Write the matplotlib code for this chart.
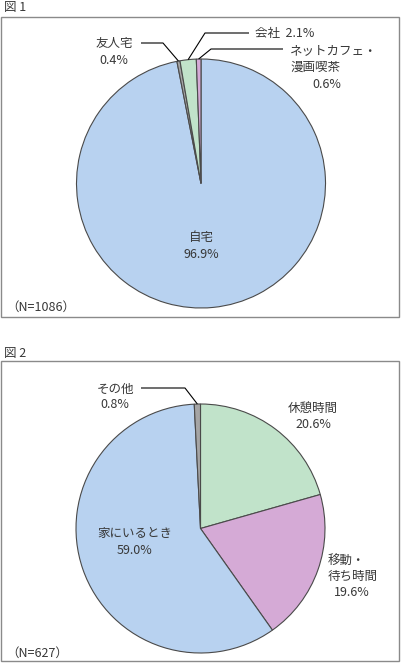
import numpy as np
import matplotlib
matplotlib.use("Agg")
import matplotlib.pyplot as plt
from matplotlib.patches import Rectangle

plt.rcParams['font.family'] = ['Noto Sans CJK JP', 'DejaVu Sans']

# ---- data ----
fig1_labels = ["自宅", "友人宅", "会社", "ネットカフェ・\n漫画喫茶"]
fig1_values = [96.9, 0.4, 2.1, 0.6]
fig1_n = 1086

fig2_labels = ["休憩時間", "移動・\n待ち時間", "家にいるとき", "その他"]
fig2_values = [20.6, 19.6, 59.0, 0.8]
fig2_n = 627

BLUE, GRAY, GREEN, PINK = "#B8D2F0", "#A5A5A5", "#C1E3CA", "#D5AAD6"
fig1_colors = [BLUE, GRAY, GREEN, PINK]
fig2_colors = [GREEN, PINK, BLUE, GRAY]

W, H = 401, 663
fig = plt.figure(figsize=(W / 100, H / 100), dpi=100)
ax = fig.add_axes([0, 0, 1, 1])
ax.set_xlim(0, W)
ax.set_ylim(0, H)
ax.axis("off")

def Y(y):
    return H - y

FS = 9
TC = "#383838"
EDGE = "#4a4a4a"
R = 124.5

def draw_pie(values, colors, cx, cy):
    wedges, _ = ax.pie(values, colors=colors, startangle=90, counterclock=False,
                       center=(cx, Y(cy)), radius=R, frame=True,
                       wedgeprops=dict(edgecolor=EDGE, linewidth=0.8))
    return wedges

def edge_point(w, cx, cy, frac=0.5):
    a = np.deg2rad(w.theta1 + (w.theta2 - w.theta1) * frac)
    return cx + R * np.cos(a), Y(cy) + R * np.sin(a)

def leader(w, cx, cy, xa, xb, ya, frac=0.5):
    px, py = edge_point(w, cx, cy, frac)
    ax.plot([xa, xb, px], [Y(ya), Y(ya), py], color="black", lw=0.8,
            solid_capstyle="butt", zorder=5)

# ---- boxes and titles ----
ax.add_patch(Rectangle((1, Y(317)), 398, 300, fill=False, ec="#8a8a8a", lw=1.0))
ax.add_patch(Rectangle((1, Y(661)), 398, 300, fill=False, ec="#8a8a8a", lw=1.0))
ax.text(4, Y(8), "図 1", fontsize=FS, color=TC, va="center", ha="left")
ax.text(4, Y(353), "図 2", fontsize=FS, color=TC, va="center", ha="left")

# ---- figure 1 ----
c1 = (201, 183.5)
w1 = draw_pie(fig1_values, fig1_colors, *c1)
ax.text(201, Y(238), fig1_labels[0], fontsize=FS, color=TC, ha="center", va="center")
ax.text(201, Y(255), f"{fig1_values[0]}%", fontsize=FS, color=TC, ha="center", va="center")

ax.text(114, Y(43), fig1_labels[1], fontsize=FS, color=TC, ha="center", va="center")
ax.text(114, Y(60), f"{fig1_values[1]}%", fontsize=FS, color=TC, ha="center", va="center")
leader(w1[1], *c1, 141, 163, 43)

ax.text(255, Y(33), f"{fig1_labels[2]}  {fig1_values[2]}%", fontsize=FS, color=TC,
        ha="left", va="center")
leader(w1[2], *c1, 249, 205, 33)

l3 = fig1_labels[3].split("\n")
ax.text(290, Y(51), l3[0], fontsize=FS, color=TC, ha="left", va="center")
ax.text(290, Y(67), l3[1], fontsize=FS, color=TC, ha="left", va="center")
ax.text(312, Y(84), f"{fig1_values[3]}%", fontsize=FS, color=TC, ha="left", va="center")
leader(w1[3], *c1, 283, 211, 49)

ax.text(6, Y(307), f"（N={fig1_n}）", fontsize=FS, color=TC, ha="left", va="center")

# ---- figure 2 ----
c2 = (200.5, 528.5)
w2 = draw_pie(fig2_values, fig2_colors, *c2)

ax.text(313, Y(408), fig2_labels[0], fontsize=FS, color=TC, ha="center", va="center")
ax.text(313, Y(424), f"{fig2_values[0]}%", fontsize=FS, color=TC, ha="center", va="center")

l2 = fig2_labels[1].split("\n")
ax.text(328, Y(561), l2[0], fontsize=FS, color=TC, ha="left", va="center")
ax.text(328, Y(576), l2[1], fontsize=FS, color=TC, ha="left", va="center")
ax.text(334, Y(592), f"{fig2_values[1]}%", fontsize=FS, color=TC, ha="left", va="center")

ax.text(135, Y(533), fig2_labels[2], fontsize=FS, color=TC, ha="center", va="center")
ax.text(135, Y(551), f"{fig2_values[2]}%", fontsize=FS, color=TC, ha="center", va="center")

ax.text(115, Y(389), fig2_labels[3], fontsize=FS, color=TC, ha="center", va="center")
ax.text(115, Y(405), f"{fig2_values[3]}%", fontsize=FS, color=TC, ha="center", va="center")
leader(w2[3], *c2, 141, 185, 388)

ax.text(6, Y(653), f"（N={fig2_n}）", fontsize=FS, color=TC, ha="left", va="center")

ax.set_xlim(0, W)
ax.set_ylim(0, H)
ax.set_aspect("auto")
ax.axis("off")
fig.savefig("out.png", dpi=100)
